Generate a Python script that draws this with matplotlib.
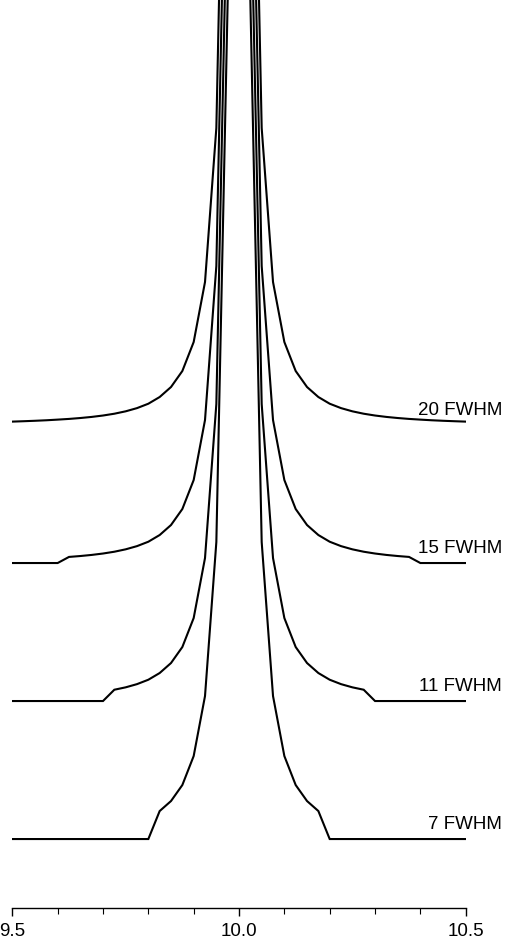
"""
Truncated Lorentzian line shapes, stacked, labelled by cut-off width in FWHM
"""

import numpy as np
import matplotlib as mpl
import matplotlib.pyplot as plt

# -- data
center = 10.0
# distance from line centre (same for both wings)
delta = [0.0, 0.025, 0.05, 0.075, 0.1, 0.125, 0.15, 0.175, 0.2, 0.225, 0.25,
         0.275, 0.3, 0.325, 0.35, 0.375, 0.4, 0.425, 0.45, 0.475, 0.5]
# line height above its own baseline at each delta
profile = [2150, 839, 297, 143, 83, 54, 38, 28, 21.3, 16.9, 13.7,
           11.3, 9.5, 8.1, 7.0, 6.1, 5.4, 4.75, 4.24, 3.8, 3.4]
labels = ['7 FWHM', '11 FWHM', '15 FWHM', '20 FWHM']
cutoff = [0.2, 0.3, 0.4, 0.55]     # profile is zero from here outwards
offset = [0, 138, 276, 414]       # vertical shift of each trace

mpl.rcParams['font.family'] = ['Liberation Sans', 'DejaVu Sans']
mpl.rcParams['font.size'] = 13.5

fig = plt.figure(figsize=(5.05, 9.4), dpi=100)
ax = fig.add_axes([0.0244, 0.034, 0.8978, 0.966])

d = np.array(delta)
p = np.array(profile)
x = np.concatenate([center - d[:0:-1], center + d])

for lab, cut, off in zip(labels, cutoff, offset):
    h = np.where(d < cut - 1e-9, p, 0.0)
    y = np.concatenate([h[:0:-1], h]) + off
    ax.plot(x, y, color='black', lw=1.5, solid_joinstyle='miter')
    ax.text(10.58, off + 10, lab, ha='right', va='baseline', clip_on=False)

ax.set_xlim(9.5, 10.5)
ax.set_ylim(-69, 839)

for s in ('top', 'left', 'right'):
    ax.spines[s].set_visible(False)
ax.spines['bottom'].set_linewidth(1.0)
ax.set_yticks([])
ax.set_xticks([9.5, 10.0, 10.5])
ax.set_xticklabels(['9.5', '10.0', '10.5'])
ax.set_xticks(np.arange(9.5, 10.51, 0.1), minor=True)
ax.tick_params(axis='x', which='major', direction='out', length=6, width=1, pad=4.5)
ax.tick_params(axis='x', which='minor', direction='out', length=4, width=0.8)

fig.savefig('out.png', dpi=100)
plt.close()
